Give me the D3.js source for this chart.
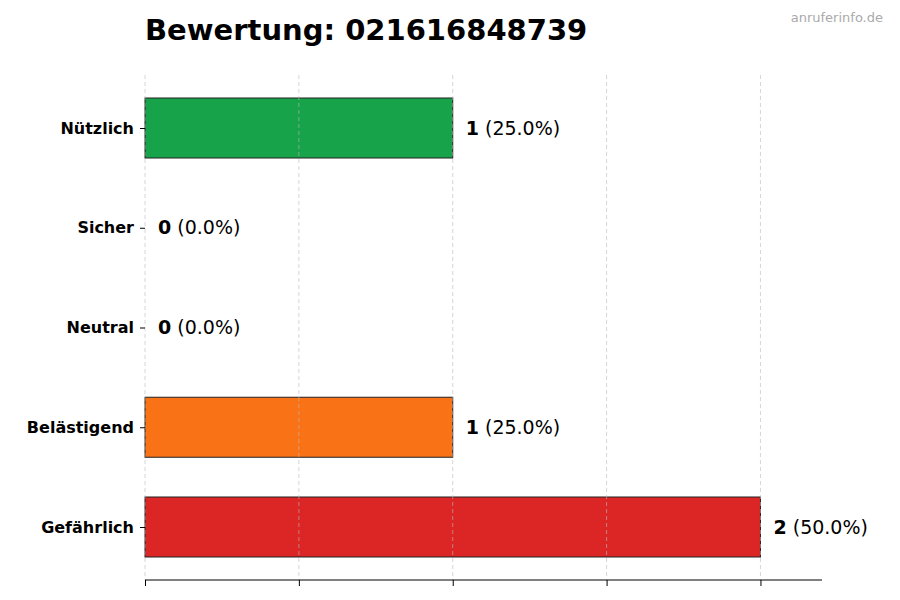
<!DOCTYPE html>
<html><head><meta charset="utf-8">
<script src="https://cdn.jsdelivr.net/npm/d3@7"></script>
<style>body{margin:0;background:#fff;font-family:"DejaVu Sans",sans-serif}</style>
</head><body><div id="chart"></div>
<script>
const categories = ['Nützlich', 'Sicher', 'Neutral', 'Belästigend', 'Gefährlich'];
const counts = [1, 0, 0, 1, 2];
const percents = ['25.0%', '0.0%', '0.0%', '25.0%', '50.0%'];
const colors = ['#16a34a', '#22c55e', '#9ca3af', '#f97316', '#dc2626'];
const xTicks = [0, 0.5, 1, 1.5, 2];

const width = 900, height = 600;
const svg = d3.select('#chart').append('svg').attr('width', width).attr('height', height);

const x = d3.scaleLinear().domain([0, 2.2]).range([145, 822]);
const y = d3.scalePoint().domain(categories).range([128, 527]);
const barH = 60;

svg.append('text').attr('x', 145).attr('y', 40)
    .style('font-size', '29px').style('font-weight', 'bold')
    .text('Bewertung: 021616848739');
svg.append('text').attr('x', 883).attr('y', 22).attr('text-anchor', 'end')
    .style('font-size', '13px').style('fill', '#aaa').text('anruferinfo.de');

svg.selectAll('.bar').data(categories).enter().append('rect')
    .attr('x', x(0)).attr('y', d => y(d) - barH / 2)
    .attr('width', (d, i) => x(counts[i]) - x(0)).attr('height', barH)
    .attr('fill', (d, i) => colors[i]).attr('stroke', '#222').attr('stroke-width', 1);

// grid over bars
svg.selectAll('.grid').data(xTicks).enter().append('line')
    .attr('x1', d => x(d)).attr('x2', d => x(d)).attr('y1', 75).attr('y2', 580)
    .attr('stroke', '#bbb').attr('stroke-dasharray', '4,3').attr('stroke-opacity', 0.6);

const xAxis = svg.append('g').attr('transform', 'translate(0,580)')
    .call(d3.axisBottom(x).tickValues(xTicks).tickFormat('').tickSize(6));
xAxis.select('.domain').attr('d', `M${x(0)},0H${x(2.2)}`);

const yAxis = svg.append('g').attr('transform', `translate(${x(0)},0)`)
    .call(d3.axisLeft(y).tickSize(5).tickPadding(6));
yAxis.select('.domain').remove();
yAxis.selectAll('text').style('font-size', '16px').style('font-weight', 'bold')
    .style('font-family', '"DejaVu Sans",sans-serif').attr('fill', '#000');

const lbl = svg.selectAll('.val').data(categories).enter().append('text')
    .attr('x', (d, i) => x(counts[i]) + 13).attr('y', d => y(d)).attr('dy', '0.35em')
    .style('font-size', '19px');
lbl.append('tspan').style('font-weight', 'bold').text((d, i) => counts[i]);
lbl.append('tspan').text((d, i) => ' (' + percents[i] + ')');
</script></body></html>
